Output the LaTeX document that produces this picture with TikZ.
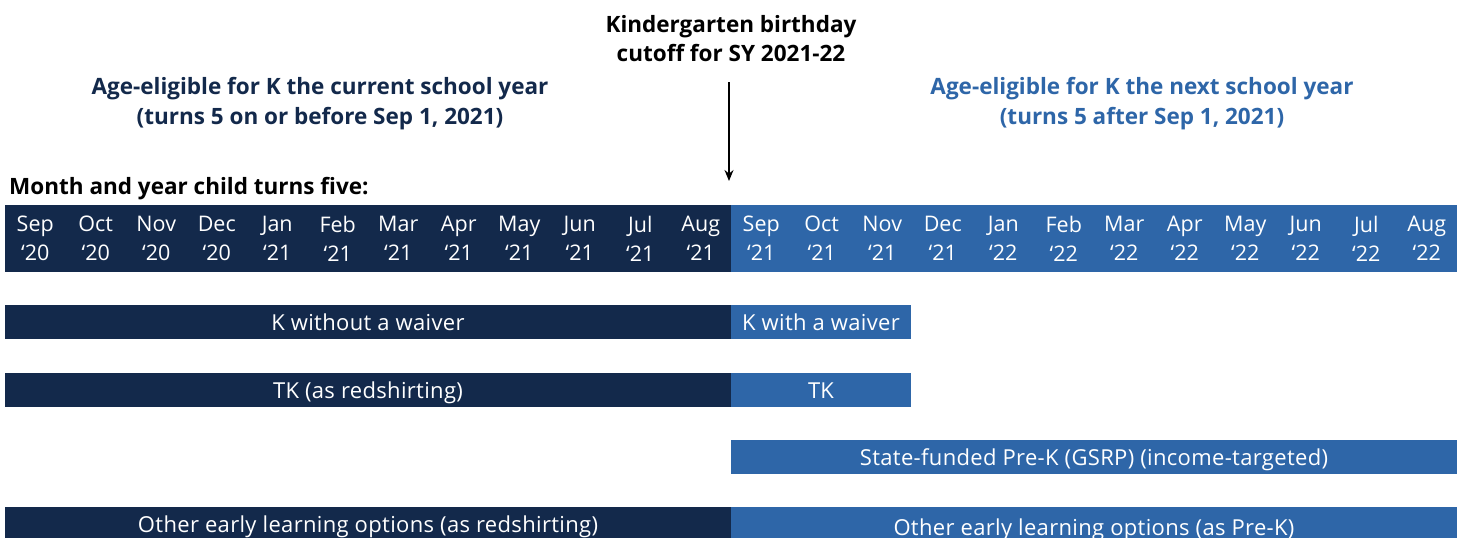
\documentclass[tikz,border=0pt]{standalone}
\usepackage{fontspec}
\setmainfont{Open Sans}
\usetikzlibrary{arrows.meta}
\definecolor{navy}{HTML}{13294B}
\definecolor{midblue}{HTML}{2E66A8}
\tikzset{
  band/.style={rectangle, inner sep=0pt, minimum height=34pt, text=white, text height=21pt, text depth=4pt,
    font=\fontsize{22}{25}\selectfont\addfontfeature{LetterSpace=1.5}},
  monthband/.style={rectangle, inner sep=0pt, minimum height=67pt, minimum width=726pt},
  monthlbl/.style={align=center, text=white, inner sep=0pt, font=\fontsize{21.5}{29}\selectfont},
  heading/.style={align=center, inner sep=0pt, font=\bfseries\fontsize{22.5}{29.5}\selectfont}
}

\begin{document}
\begin{tikzpicture}[x=1pt, y=-1pt]
			%%%%% START %%%%%
			\clip (0,0) rectangle (1462,538);
			
			\node[heading] (cutoff) at (731, 38.5) {Kindergarten birthday\\cutoff for SY 2021-22};
			\node[heading, text=navy] (curyear) at (320, 103.5) {Age-eligible for K the current school year\\(turns 5 on or before Sep 1, 2021)};
			\node[heading, text=midblue] (nextyear) at (1142, 103.5) {Age-eligible for K the next school year\\(turns 5 after Sep 1, 2021)};
			\node[heading, anchor=west] (turnsfive) at (9, 189) {Month and year child turns five:};
			
			\coordinate (arrowend) at (729, 181);
			\draw[line width=1.6pt, -{Stealth[length=11pt, width=9pt]}] (729, 82) -- (arrowend);
			
			\node[monthband, fill=navy] (months21) at (368, 238.5) {};
			\node[monthband, fill=midblue] (months22) at (1094, 238.5) {};
			\foreach \m/\yr [count=\i from 0] in {Sep/20, Oct/20, Nov/20, Dec/20, Jan/21, Feb/21, Mar/21, Apr/21, May/21, Jun/21, Jul/21, Aug/21,
			                                      Sep/21, Oct/21, Nov/21, Dec/21, Jan/22, Feb/22, Mar/22, Apr/22, May/22, Jun/22, Jul/22, Aug/22}
			  \node[monthlbl] (m\i) at ({35.25+60.5*\i}, 238.5) {\m\\‘\yr};
			
			\node[band, fill=navy, minimum width=726pt] (kwithout) at (368, 322) {K without a waiver};
			\node[band, fill=midblue, minimum width=180pt] (kwith) at (821, 322) {K with a waiver};
			
			\node[band, fill=navy, minimum width=726pt] (tkred) at (368, 390) {TK (as redshirting)};
			\node[band, fill=midblue, minimum width=180pt] (tk) at (821, 390) {TK};
			
			\node[band, fill=midblue, minimum width=726pt] (gsrp) at (1094, 457) {State-funded Pre-K (GSRP) (income-targeted)};
			
			\node[band, fill=navy, minimum width=726pt] (otherred) at (368, 524) {Other early learning options (as redshirting)};
			\node[band, fill=midblue, minimum width=726pt, minimum height=40pt] (otherprek) at (1094, 527) {Other early learning options (as Pre-K)};
			
			%%%%% END %%%%%
\end{tikzpicture}
\end{document}
